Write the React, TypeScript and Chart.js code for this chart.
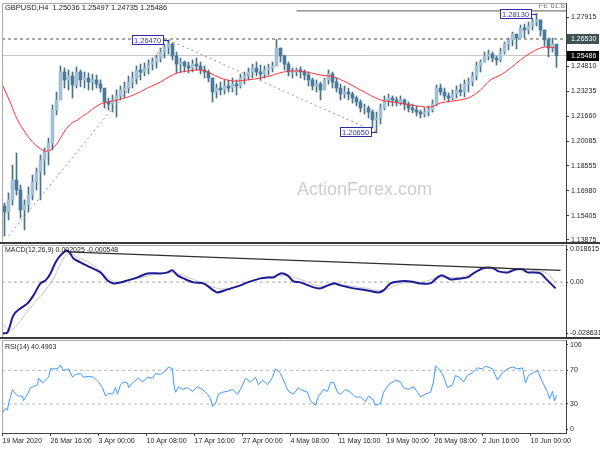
import React, { useEffect, useRef } from 'react';
import { Chart, registerables } from 'chart.js';

Chart.register(...registerables);

// ---------- price data (each bar ~ 2.7 H4 candles) ----------
const HIGH = [
  1.1620, 1.1683, 1.1859, 1.1935, 1.1733, 1.1639, 1.1720, 1.1796, 1.1840, 1.1922,
  1.1966, 1.2029, 1.2237, 1.2319, 1.2483, 1.2470, 1.2458, 1.2445, 1.2477, 1.2458,
  1.2445, 1.2439, 1.2432, 1.2426, 1.2395, 1.2332, 1.2281, 1.2300, 1.2332, 1.2357,
  1.2382, 1.2420, 1.2445, 1.2483, 1.2495, 1.2502, 1.2521, 1.2533, 1.2552, 1.2596,
  1.2621, 1.2647, 1.2628, 1.2571, 1.2533, 1.2514, 1.2508, 1.2521, 1.2533, 1.2508,
  1.2483, 1.2458, 1.2407, 1.2369, 1.2382, 1.2395, 1.2395, 1.2407, 1.2395, 1.2432,
  1.2445, 1.2470, 1.2495, 1.2508, 1.2489, 1.2483, 1.2495, 1.2508, 1.2650, 1.2596,
  1.2552, 1.2508, 1.2470, 1.2470, 1.2477, 1.2458, 1.2445, 1.2407, 1.2395, 1.2382,
  1.2407, 1.2458, 1.2445, 1.2407, 1.2369, 1.2357, 1.2344, 1.2319, 1.2294, 1.2269,
  1.2243, 1.2231, 1.2206, 1.2193, 1.2243, 1.2294, 1.2306, 1.2294, 1.2288, 1.2294,
  1.2275, 1.2256, 1.2243, 1.2231, 1.2206, 1.2218, 1.2231, 1.2269, 1.2363, 1.2369,
  1.2344, 1.2313, 1.2332, 1.2357, 1.2369, 1.2395, 1.2407, 1.2445, 1.2508, 1.2521,
  1.2571, 1.2584, 1.2571, 1.2546, 1.2596, 1.2634, 1.2659, 1.2697, 1.2684, 1.2741,
  1.2747, 1.2760, 1.2785, 1.2813, 1.2773, 1.2710, 1.2659, 1.2659, 1.2600,
];
const LOW = [
  1.1412, 1.1513, 1.1607, 1.1670, 1.1525, 1.1450, 1.1563, 1.1639, 1.1702, 1.1639,
  1.1796, 1.1859, 1.1954, 1.2174, 1.2269, 1.2344, 1.2332, 1.2281, 1.2344, 1.2351,
  1.2344, 1.2332, 1.2332, 1.2344, 1.2319, 1.2218, 1.2206, 1.2193, 1.2162, 1.2269,
  1.2281, 1.2313, 1.2344, 1.2369, 1.2395, 1.2420, 1.2432, 1.2458, 1.2470, 1.2508,
  1.2533, 1.2558, 1.2521, 1.2439, 1.2445, 1.2445, 1.2439, 1.2445, 1.2458, 1.2432,
  1.2407, 1.2382, 1.2256, 1.2281, 1.2300, 1.2306, 1.2319, 1.2319, 1.2300, 1.2344,
  1.2369, 1.2395, 1.2407, 1.2420, 1.2395, 1.2407, 1.2426, 1.2445, 1.2483, 1.2508,
  1.2458, 1.2420, 1.2407, 1.2420, 1.2407, 1.2395, 1.2357, 1.2332, 1.2319, 1.2269,
  1.2332, 1.2369, 1.2344, 1.2319, 1.2269, 1.2281, 1.2269, 1.2249, 1.2231, 1.2193,
  1.2180, 1.2155, 1.2092, 1.2065, 1.2117, 1.2206, 1.2231, 1.2231, 1.2231, 1.2237,
  1.2206, 1.2193, 1.2187, 1.2168, 1.2155, 1.2162, 1.2168, 1.2193, 1.2231, 1.2300,
  1.2269, 1.2256, 1.2269, 1.2281, 1.2294, 1.2288, 1.2319, 1.2357, 1.2395, 1.2445,
  1.2508, 1.2521, 1.2508, 1.2489, 1.2508, 1.2558, 1.2584, 1.2610, 1.2590, 1.2672,
  1.2659, 1.2684, 1.2710, 1.2735, 1.2672, 1.2609, 1.2540, 1.2571, 1.2474,
];
const CLOSE = [
  1.1563, 1.1639, 1.1765, 1.1702, 1.1576, 1.1607, 1.1670, 1.1752, 1.1815, 1.1891,
  1.1941, 1.1998, 1.2206, 1.2269, 1.2445, 1.2395, 1.2420, 1.2363, 1.2445, 1.2395,
  1.2407, 1.2382, 1.2395, 1.2369, 1.2344, 1.2256, 1.2243, 1.2269, 1.2294, 1.2332,
  1.2344, 1.2382, 1.2407, 1.2458, 1.2445, 1.2470, 1.2495, 1.2508, 1.2533, 1.2571,
  1.2602, 1.2621, 1.2546, 1.2495, 1.2508, 1.2483, 1.2470, 1.2495, 1.2483, 1.2458,
  1.2445, 1.2407, 1.2319, 1.2344, 1.2332, 1.2357, 1.2344, 1.2369, 1.2357, 1.2407,
  1.2420, 1.2445, 1.2470, 1.2445, 1.2432, 1.2458, 1.2470, 1.2483, 1.2596, 1.2546,
  1.2495, 1.2445, 1.2445, 1.2458, 1.2445, 1.2426, 1.2395, 1.2357, 1.2369, 1.2332,
  1.2395, 1.2432, 1.2382, 1.2344, 1.2306, 1.2319, 1.2306, 1.2281, 1.2256, 1.2218,
  1.2218, 1.2193, 1.2143, 1.2155, 1.2218, 1.2269, 1.2281, 1.2269, 1.2256, 1.2269,
  1.2243, 1.2218, 1.2206, 1.2193, 1.2180, 1.2193, 1.2206, 1.2243, 1.2344, 1.2319,
  1.2294, 1.2281, 1.2306, 1.2332, 1.2319, 1.2369, 1.2382, 1.2420, 1.2483, 1.2508,
  1.2546, 1.2558, 1.2533, 1.2521, 1.2571, 1.2621, 1.2647, 1.2684, 1.2659, 1.2722,
  1.2710, 1.2735, 1.2760, 1.2773, 1.2710, 1.2647, 1.2596, 1.2621, 1.2549,
];
const FIRST_OPEN = 1.1600;

// moving average (red)
const MA_IDX = [
  -0.5, 1.5, 3.25, 5.25, 7, 9, 10.25, 11.5, 13.25, 14.75, 16.5, 18.25, 20.75, 24, 28.25,
  32.25, 35.75, 39, 41.5, 43.25, 45.75, 49, 50.75, 54, 57.25, 60.75, 64, 67.25, 69.75, 74,
  79, 82.25, 85.75, 89, 94, 97.25, 101.5, 106.5, 109, 114, 116.5, 119, 121.5, 124, 126.5,
  129, 131.5, 134, 135.75, 137.75,
];
const MA_VAL = [
  1.2363, 1.2250, 1.2143, 1.2061, 1.2004, 1.1960, 1.1947, 1.1954, 1.1998, 1.2061, 1.2117, 1.2143, 1.2187, 1.2243, 1.2269,
  1.2300, 1.2344, 1.2382, 1.2420, 1.2439, 1.2451, 1.2458, 1.2445, 1.2407, 1.2388, 1.2395, 1.2407, 1.2426, 1.2445, 1.2451,
  1.2426, 1.2414, 1.2376, 1.2332, 1.2269, 1.2256, 1.2237, 1.2224, 1.2250, 1.2269, 1.2288, 1.2332, 1.2395, 1.2426, 1.2470,
  1.2521, 1.2565, 1.2596, 1.2603, 1.2596,
];

const PRICE_TICKS = [1.27915, 1.2634, 1.2481, 1.23235, 1.2166, 1.20085, 1.18555, 1.1698, 1.15405, 1.13875];
const LEVEL_PRICE = 1.2653;
const BID_PRICE = 1.25486;
const FE_PRICE = 1.2830;
const FE_START_IDX = 73;
const PEAK_IDX = [41, 133, 93];
const PEAK_VAL = [1.2647, 1.2813, 1.2065];
const TREND1 = [1, 1.1412, 41, 1.2647];
const TREND2 = [41, 1.2647, 93, 1.2065];

// ---------- MACD ----------
const MACD_IDX = [
  -0.5, 0.75, 2, 2.75, 4, 5.75, 7.25, 9, 10.25, 11.5, 12.75, 14, 15.5, 16.25, 17.25, 19, 21.5, 24,
  25.75, 27.25, 29, 30.75, 33.25, 35.75, 39, 40.75, 42, 43.25, 44.75, 47.25, 49.75, 52.25, 53.25,
  55.75, 59, 60.75, 64, 65.75, 67.25, 69, 70.75, 72.25, 74, 77.25, 79, 82.25, 84, 87.25, 90.75,
  93.5, 94.75, 96.5, 98.5, 101.5, 104, 106.5, 108.25, 109.5, 111.5, 114, 115.75, 117.25, 119.5,
  121, 122.25, 123.5, 125.75, 127.75, 129.5, 130.75, 132.25, 134, 135.25, 136.5, 137.75,
];
const MACD_VAL = [
  -0.02886, -0.0283, -0.01986, -0.01704, -0.01479, -0.01198, -0.00748, -0.00073, 0.00096, 0.00489,
  0.01108, 0.01502, 0.0178, 0.0167, 0.01333, 0.01108, 0.00827, 0.00546, 0.00096, -0.00073, -0.00017,
  0.00096, 0.00264, 0.00489, 0.00489, 0.00546, 0.00658, 0.00377, 0.00208, -0.00017, -0.00073,
  -0.00467, -0.00579, -0.00411, -0.00186, -0.00017, 0.00208, 0.00264, 0.00264, 0.00489, 0.00377,
  0.00039, -0.00017, -0.00298, -0.00354, -0.00073, -0.00186, -0.00354, -0.00467, -0.00579, -0.00467,
  -0.00073, 0.00039, 0.00039, -0.00073, -0.00073, 0.00264, 0.00377, 0.00152, 0.00208, 0.00264,
  0.00489, 0.00771, 0.00827, 0.00771, 0.00602, 0.00546, 0.00714, 0.00714, 0.00546, 0.00546,
  0.00489, 0.00208, -0.00073, -0.00354,
];
const SIG_IDX = [
  -0.5, 1.5, 6.5, 11.5, 15.75, 18.25, 21.5, 25.75, 28.25, 32.25, 39, 43.25, 47.25, 53.25, 57.25,
  64, 69.75, 74, 79, 82.25, 90.75, 94.75, 99, 104, 109, 114, 119, 122.25, 127.25, 132.25, 135.75, 137.75,
];
const SIG_VAL = [
  -0.02323, -0.02717, -0.01423, -0.00073, 0.01614, 0.01389, 0.01052, 0.00264, -0.00017, 0.00152,
  0.00489, 0.00489, 0.00152, -0.00354, -0.00298, 0.00208, 0.00377, 0.00152, -0.00242, -0.00129,
  -0.00354, -0.00467, -0.00073, -0.00017, 0.00264, 0.00264, 0.00658, 0.00827, 0.00714, 0.00658,
  0.00489, -0.00073,
];
const MACD_TREND = [15.75, 0.01699, 139, 0.00658];
const MACD_TICKS = [0.018615, 0, -0.028631];

// ---------- RSI ----------
const RSI_IDX = [
  -0.5, 0.25, 0.75, 1, 2, 2.75, 3.5, 4.5, 4.75, 5.75, 6.5, 7.25, 8.25, 8.5, 9.5, 10.25, 11, 11.5,
  12.75, 13.5, 14, 14.75, 16, 17, 17.75, 19, 19.75, 21, 22.25, 23.5, 24.5, 25.25, 26, 27, 27.75,
  28.25, 29, 29.75, 30.75, 31, 32.25, 33.5, 34.5, 35.75, 37, 37.75, 39, 40.25, 41, 42, 42.25, 42.75,
  43.5, 44.5, 45.75, 47, 48.25, 49.5, 50.75, 51.5, 52, 52.75, 53.5, 54.5, 55.75, 57, 58.25, 59,
  60.25, 61.5, 62.75, 63.5, 64.5, 65.75, 67, 67.75, 69, 70.25, 71, 72.25, 73.5, 74, 75.75, 76.5,
  77.75, 78.5, 79.75, 80.75, 81.5, 82.25, 83.25, 84, 85.25, 86.5, 87.75, 89, 90.25, 91, 92, 92.75,
  94, 94.75, 96, 97.75, 99, 99.75, 101, 102.25, 103.25, 104, 105.25, 106.5, 107.25, 107.75, 108.5,
  109.5, 110.75, 112, 112.75, 114, 114.75, 115.75, 117, 118.25, 119.5, 120.25, 122, 123.25, 124.5,
  125.75, 127, 128.25, 129.5, 130.25, 131, 132.25, 133.25, 134.5, 135.75, 136.25, 137, 137.5, 138,
];
const RSI_VAL = [
  19.4, 25.0, 22.8, 30.6, 47.2, 41.7, 39.4, 39.4, 33.9, 41.7, 49.4, 50.6, 52.8, 60.6, 55.0, 58.3, 61.7, 71.7,
  71.7, 72.8, 76.1, 69.4, 71.7, 61.7, 65.0, 66.1, 61.7, 62.8, 61.7, 56.1, 49.4, 39.4, 42.8, 41.7, 49.4,
  41.7, 52.8, 56.1, 55.0, 49.4, 56.1, 60.6, 56.1, 61.7, 60.6, 66.1, 65.0, 69.4, 73.9, 71.7, 56.1, 43.9,
  50.6, 47.2, 49.4, 45.0, 50.6, 47.2, 41.7, 36.1, 27.2, 30.6, 41.7, 43.9, 45.0, 47.2, 41.7, 47.2,
  60.6, 56.1, 61.7, 52.8, 58.3, 52.8, 61.7, 71.7, 66.1, 52.8, 45.0, 41.7, 49.4, 47.2, 43.9, 33.9,
  28.3, 39.4, 47.2, 45.0, 55.0, 56.1, 43.9, 41.7, 47.2, 43.9, 38.3, 38.3, 32.8, 39.4, 36.1, 28.3,
  30.6, 43.9, 52.8, 58.3, 56.1, 49.4, 47.2, 50.6, 43.9, 38.3, 41.7, 43.9, 56.1, 75.0, 71.7,
  66.1, 49.4, 52.8, 63.9, 60.6, 56.1, 63.9, 67.2, 72.8, 71.7, 75.0, 71.7, 58.3, 67.2,
  71.7, 73.9, 71.7, 72.8, 55.0, 63.9, 67.2, 69.4, 56.1, 43.9, 36.1, 45.0, 33.9, 40.5,
];
const RSI_LEVELS = [70, 30];
const RSI_TICKS = [100, 70, 30, 0];

// ---------- time axis ----------
const TIME_IDX = [-0.5, 11.5, 23.5, 35.5, 47.5, 59.5, 71.5, 83.5, 95.5, 107.5, 119.5, 131.5];
const TIME_LABELS = [
  '19 Mar 2020', '26 Mar 16:00', '3 Apr 00:00', '10 Apr 08:00', '17 Apr 16:00', '27 Apr 00:00',
  '4 May 08:00', '11 May 16:00', '19 May 00:00', '26 May 08:00', '2 Jun 16:00', '10 Jun 00:00',
];

const TITLE = 'GBPUSD,H4  1.25036 1.25497 1.24735 1.25486';
const MACD_TITLE = 'MACD(12,26,9) 0.002025 -0.000548';
const RSI_TITLE = 'RSI(14) 40.4903';

// ---------- styling ----------
const FONT = "'Liberation Sans', Arial, sans-serif";
const AXIS_FS = 7;
const X_MIN = -0.625;
const X_MAX = 140.375;
const AXIS_W = 34;
const TXT = '#1e1e1e';
const AXIS_LINE = '#404040';
const WICK = '#44728f';
const BULL = '#a3c0d3';
const BEAR = '#4c7995';

const pts = (xs: number[], ys: number[]) => xs.map((x, i) => ({ x, y: ys[i] }));
const seg = (s: number[]) => [{ x: s[0], y: s[1] }, { x: s[2], y: s[3] }];

const hiddenX = () => ({ type: 'linear', min: X_MIN, max: X_MAX, offset: false, bounds: 'data', display: false });

const yAxis = (min: number, max: number, ticks: number[], fmt: (v: number) => string, tickLen = 3) => ({
  type: 'linear',
  position: 'right',
  min,
  max,
  bounds: 'data',
  afterBuildTicks: (s: any) => { s.ticks = ticks.map((v) => ({ value: v })); },
  afterFit: (s: any) => { s.width = AXIS_W; s.paddingTop = 0; s.paddingBottom = 0; },
  ticks: { autoSkip: false, padding: 2, color: TXT, font: { family: FONT, size: AXIS_FS }, callback: (v: any) => fmt(Number(v)) },
  grid: { drawOnChartArea: false, drawTicks: true, tickLength: tickLen, color: AXIS_LINE },
  border: { display: true, color: AXIS_LINE, width: 1 },
});

const framePlugin = (bottomBar: boolean) => ({
  id: 'frame',
  afterDraw(chart: any) {
    const { ctx, chartArea: a } = chart;
    ctx.save();
    ctx.strokeStyle = '#a8a8a8';
    ctx.lineWidth = 1;
    ctx.beginPath();
    ctx.moveTo(a.left + 0.5, a.bottom);
    ctx.lineTo(a.left + 0.5, a.top + 0.5);
    ctx.lineTo(a.right, a.top + 0.5);
    ctx.stroke();
    if (bottomBar) {
      ctx.fillStyle = '#3a3a3a';
      ctx.fillRect(0, a.bottom - 1, chart.width, 2);
    }
    ctx.restore();
  },
});

const headerPlugin = (text: string, y: number) => ({
  id: 'header',
  afterDatasetsDraw(chart: any) {
    const { ctx, chartArea: a } = chart;
    ctx.save();
    ctx.font = `${AXIS_FS}px ${FONT}`;
    ctx.fillStyle = TXT;
    ctx.textBaseline = 'middle';
    ctx.fillText(text, a.left + 3, a.top + y);
    ctx.restore();
  },
});

const mainPlugin = {
  id: 'mainDecor',
  beforeDatasetsDraw(chart: any) {
    const { ctx } = chart;
    ctx.save();
    ctx.font = `18px ${FONT}`;
    ctx.fillStyle = '#cdcdcd';
    ctx.textBaseline = 'alphabetic';
    ctx.fillText('ActionForex.com', 297, 195);
    ctx.restore();
  },
  afterDatasetsDraw(chart: any) {
    const { ctx, chartArea: a, scales } = chart;
    const x = scales.x;
    const y = scales.y;
    ctx.save();
    ctx.font = `7.5px ${FONT}`;
    ctx.textBaseline = 'middle';
    PEAK_IDX.forEach((idx, k) => {
      const px = Math.round(x.getPixelForValue(idx));
      const py = Math.round(y.getPixelForValue(PEAK_VAL[k]));
      const text = PEAK_VAL[k].toFixed(5);
      const w = Math.round(ctx.measureText(text).width) + 4;
      const h = 9;
      const bx = px - 6 - w;
      ctx.fillStyle = '#ffffff';
      ctx.fillRect(bx, py - 4, w, h);
      ctx.strokeStyle = '#2c2ca8';
      ctx.lineWidth = 1;
      ctx.strokeRect(bx + 0.5, py - 4.5, w, h);
      ctx.beginPath();
      ctx.moveTo(bx + w, py + 0.5);
      ctx.lineTo(px, py + 0.5);
      ctx.stroke();
      ctx.fillStyle = '#3535b5';
      ctx.fillText(text, bx + 2, py + 0.5);
    });
    ctx.fillStyle = TXT;
    ctx.fillText(TITLE, a.left + 3, a.top + 4.5);
    ctx.fillStyle = '#7a7a7a';
    ctx.textAlign = 'right';
    ctx.fillText('FE 61.8', a.right - 1, y.getPixelForValue(FE_PRICE) - 5);
    ctx.restore();
  },
  afterDraw(chart: any) {
    const { ctx, chartArea: a, scales } = chart;
    const y = scales.y;
    ctx.save();
    ctx.font = `${AXIS_FS}px ${FONT}`;
    ctx.textBaseline = 'middle';
    const boxes: [number, string][] = [[LEVEL_PRICE, '#3e5252'], [BID_PRICE, '#000000']];
    boxes.forEach(([v, c]) => {
      const py = Math.round(y.getPixelForValue(v));
      ctx.fillStyle = c;
      ctx.fillRect(a.right + 1, py - 5, AXIS_W - 2, 10);
      ctx.fillStyle = '#ffffff';
      ctx.fillText(v.toFixed(5), a.right + 5, py + 0.5);
    });
    ctx.restore();
  },
};

export default function App() {
  const mainRef = useRef<HTMLCanvasElement>(null);
  const macdRef = useRef<HTMLCanvasElement>(null);
  const rsiRef = useRef<HTMLCanvasElement>(null);

  useEffect(() => {
    const opens = CLOSE.map((c, i) => (i === 0 ? FIRST_OPEN : CLOSE[i - 1]));
    const wicks = HIGH.map((h, i) => ({ x: i, y: [LOW[i], h] }));
    const bodies = CLOSE.map((c, i) => ({ x: i, y: [Math.min(opens[i], c), Math.max(opens[i], c)] }));
    const bodyColors = CLOSE.map((c, i) => (c >= opens[i] ? BULL : BEAR));

    const common: any = {
      responsive: false,
      maintainAspectRatio: false,
      animation: false,
      devicePixelRatio: 1,
      events: [],
      plugins: { legend: { display: false }, tooltip: { enabled: false } },
    };

    const lineDs = (data: any[], color: string, width: number, extra: any = {}) => ({
      type: 'line', data, borderColor: color, borderWidth: width, pointRadius: 0, fill: false, ...extra,
    });

    const main = new Chart(mainRef.current as HTMLCanvasElement, {
      type: 'bar',
      data: {
        datasets: [
          lineDs(seg([X_MIN, LEVEL_PRICE, X_MAX, LEVEL_PRICE]), '#505050', 1, { borderDash: [3, 3], order: 30 }),
          lineDs(seg([X_MIN, BID_PRICE, X_MAX, BID_PRICE]), '#c4c4c4', 1, { order: 29 }),
          lineDs(seg([FE_START_IDX, FE_PRICE, X_MAX, FE_PRICE]), '#5a5a5a', 1, { order: 28 }),
          { type: 'bar', data: wicks, backgroundColor: WICK, barThickness: 1, grouped: false, order: 20 },
          { type: 'bar', data: bodies, backgroundColor: bodyColors, barThickness: 3, grouped: false, order: 19 },
          lineDs(pts(MA_IDX, MA_VAL), '#ff3434', 1, { tension: 0.35, order: 10 }),
          lineDs(seg(TREND1), '#8a9898', 1, { borderDash: [2, 3], order: 5 }),
          lineDs(seg(TREND2), '#8a9898', 1, { borderDash: [2, 3], order: 5 }),
        ] as any,
      },
      options: {
        ...common,
        layout: { padding: { left: 2, top: 3, right: 0, bottom: 1 } },
        scales: {
          x: hiddenX() as any,
          y: yAxis(1.13677, 1.28797, PRICE_TICKS, (v) => v.toFixed(5)) as any,
        },
      },
      plugins: [framePlugin(true), mainPlugin],
    } as any);

    const macd = new Chart(macdRef.current as HTMLCanvasElement, {
      type: 'line',
      data: {
        datasets: [
          lineDs(seg([X_MIN, 0, X_MAX, 0]), '#a8a8a8', 1, { borderDash: [3, 3], order: 30 }),
          lineDs(pts(SIG_IDX, SIG_VAL), '#c6c6c6', 1, { tension: 0.35, order: 20 }),
          lineDs(pts(MACD_IDX, MACD_VAL), '#1b1b96', 2, { tension: 0.3, order: 10 }),
          lineDs(seg(MACD_TREND), '#2e2e2e', 1.2, { order: 5 }),
        ] as any,
      },
      options: {
        ...common,
        layout: { padding: { left: 2, top: 1, right: 0, bottom: 1 } },
        scales: {
          x: hiddenX() as any,
          y: yAxis(-0.031443, 0.020865, MACD_TICKS, (v) => (v === 0 ? '0.00' : v.toFixed(6)), 2) as any,
        },
      },
      plugins: [framePlugin(true), headerPlugin(MACD_TITLE, 5)],
    } as any);

    const rsi = new Chart(rsiRef.current as HTMLCanvasElement, {
      type: 'line',
      data: {
        datasets: [
          ...RSI_LEVELS.map((l) => lineDs(seg([X_MIN, l, X_MAX, l]), '#b4b4b4', 1, { borderDash: [3, 3], order: 30 })),
          lineDs(pts(RSI_IDX, RSI_VAL), '#3b98ff', 1, { order: 10 }),
        ] as any,
      },
      options: {
        ...common,
        layout: { padding: { left: 2, top: 1, right: 0, bottom: 0 } },
        scales: {
          x: {
            type: 'linear',
            min: X_MIN,
            max: X_MAX,
            offset: false,
            bounds: 'data',
            position: 'bottom',
            afterBuildTicks: (s: any) => { s.ticks = TIME_IDX.map((v) => ({ value: v })); },
            afterFit: (s: any) => { s.height = 17; s.paddingLeft = 0; s.paddingRight = 0; },
            ticks: {
              autoSkip: false, maxRotation: 0, minRotation: 0, align: 'start', padding: 1,
              color: TXT, font: { family: FONT, size: AXIS_FS },
              callback: (_v: any, i: number) => TIME_LABELS[i],
            },
            grid: { drawOnChartArea: false, drawTicks: true, tickLength: 3, color: AXIS_LINE },
            border: { display: true, color: AXIS_LINE, width: 1 },
          } as any,
          y: yAxis(-4.4, 105.9, RSI_TICKS, (v) => String(v), 2) as any,
        },
      },
      plugins: [framePlugin(false), headerPlugin(RSI_TITLE, 7)],
    } as any);

    return () => {
      main.destroy();
      macd.destroy();
      rsi.destroy();
    };
  }, []);

  return (
    <div style={{ position: 'fixed', left: 0, top: 0, width: 600, height: 450, background: '#ffffff', overflow: 'hidden' }}>
      <canvas ref={mainRef} width={600} height={244} style={{ position: 'absolute', left: 0, top: 0 }} />
      <canvas ref={macdRef} width={600} height={95} style={{ position: 'absolute', left: 0, top: 244 }} />
      <canvas ref={rsiRef} width={600} height={111} style={{ position: 'absolute', left: 0, top: 339 }} />
    </div>
  );
}
